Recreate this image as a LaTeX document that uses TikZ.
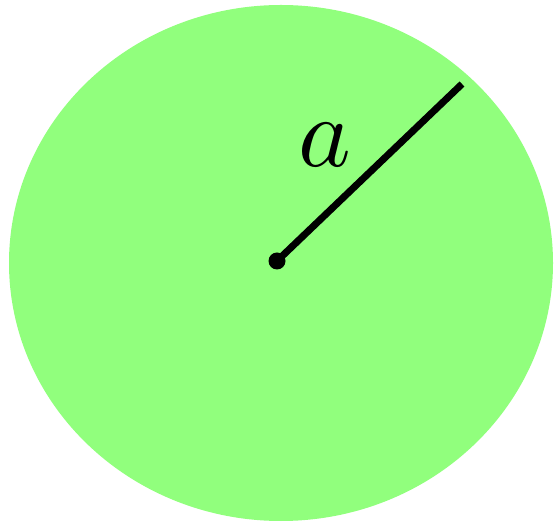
\documentclass[tikz,border=0pt]{standalone}
\usepackage{amsmath}
\usepackage{tikz}
\usepackage{xcolor}
\usetikzlibrary{positioning}
\definecolor{discgreen}{RGB}{145,255,125}
\tikzset{
  disc/.style = {
    fill=discgreen,
    draw=none
  },
  centredot/.style = {
    circle,
    fill=black,
    inner sep=0pt,
    minimum size=17pt
  },
  radiusline/.style = {
    line width=7pt
  },
  radiuslabel/.style = {
    scale=10,
    transform shape
  }
}

\begin{document}
\begin{tikzpicture}[x=1pt,y=1pt]
    \useasboundingbox (0,0) rectangle (554,522);
    \fill[disc] (281,259) ellipse [x radius=272, y radius=258];
    \node[centredot] (centre) at (277,261) {};
    \coordinate (rim) at (462,438);
    \node[radiuslabel] (label) at (325,377) {$a$};
    \draw[radiusline] (centre.center) -- (rim);
  \end{tikzpicture}
\end{document}
